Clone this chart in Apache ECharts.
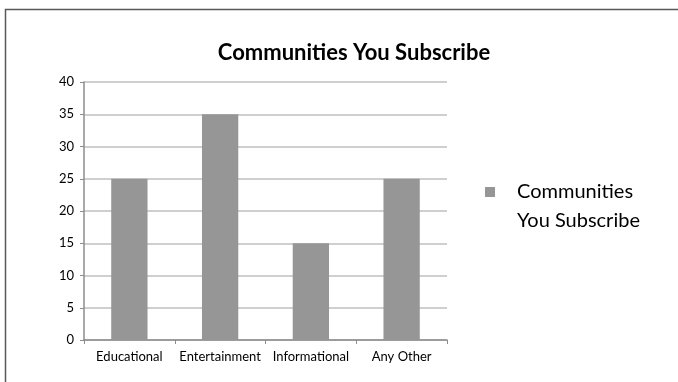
<!DOCTYPE html>
<html>
<head>
<meta charset="utf-8">
<script src="https://cdn.jsdelivr.net/npm/echarts@6/dist/echarts.min.js"></script>
<style>
  html, body { margin: 0; padding: 0; background: #fff; }
  #chart { width: 678px; height: 382px; }
</style>
</head>
<body>
<div id="chart"></div>
<script>
// Chart data
const categories = ['Educational', 'Entertainment', 'Informational', 'Any Other'];
const subscriptions = [25, 35, 15, 25];
const seriesName = 'Communities You Subscribe';
const legendLines = ['Communities', 'You Subscribe'];
const yTicks = { min: 0, max: 40, interval: 5 };

const FONT = 'Lato';
const chart = echarts.init(document.getElementById('chart'), null, { renderer: 'canvas' });

chart.setOption({
  backgroundColor: '#ffffff',
  animation: false,
  graphic: [
    {
      // outer frame
      type: 'rect',
      shape: { x: 5.5, y: 9.5, width: 700, height: 400 },
      style: { fill: 'none', stroke: '#595959', lineWidth: 1.5 },
      silent: true
    },
    {
      // second line of the wrapped legend label
      type: 'text',
      left: 517,
      top: 211,
      style: { text: legendLines[1], fontFamily: FONT, fontSize: 20, fill: '#000' },
      silent: true
    }
  ],
  title: {
    text: seriesName,
    left: 349,
    textAlign: 'center',
    top: 37,
    textStyle: { fontFamily: FONT, fontWeight: 'bold', fontSize: 22, color: '#000' }
  },
  legend: {
    data: [seriesName],
    left: 480,
    top: 177,
    itemWidth: 10,
    itemHeight: 10,
    itemGap: 0,
    icon: 'rect',
    formatter: () => legendLines[0],
    textStyle: { fontFamily: FONT, fontSize: 20, color: '#000', padding: [0, 0, 0, 17] }
  },
  grid: { left: 84, right: 231, top: 82, bottom: 42 },
  xAxis: {
    type: 'category',
    data: categories,
    axisLine: { lineStyle: { color: '#8c8c8c', width: 1.5 } },
    axisTick: { show: true, length: 4, lineStyle: { color: '#8c8c8c' } },
    axisLabel: { fontFamily: FONT, fontSize: 13, color: '#000', margin: 10, interval: 0 }
  },
  yAxis: {
    type: 'value',
    min: yTicks.min,
    max: yTicks.max,
    interval: yTicks.interval,
    axisLine: { show: true, lineStyle: { color: '#8c8c8c', width: 1.5 } },
    axisTick: { show: true, length: 4, lineStyle: { color: '#8c8c8c' } },
    axisLabel: { fontFamily: FONT, fontSize: 13, color: '#000', margin: 10 },
    splitLine: { lineStyle: { color: '#bfbfbf', width: 1.5 } }
  },
  series: [{
    name: seriesName,
    type: 'bar',
    data: subscriptions,
    barWidth: '40%',
    itemStyle: { color: '#969696' }
  }]
});
</script>
</body>
</html>
